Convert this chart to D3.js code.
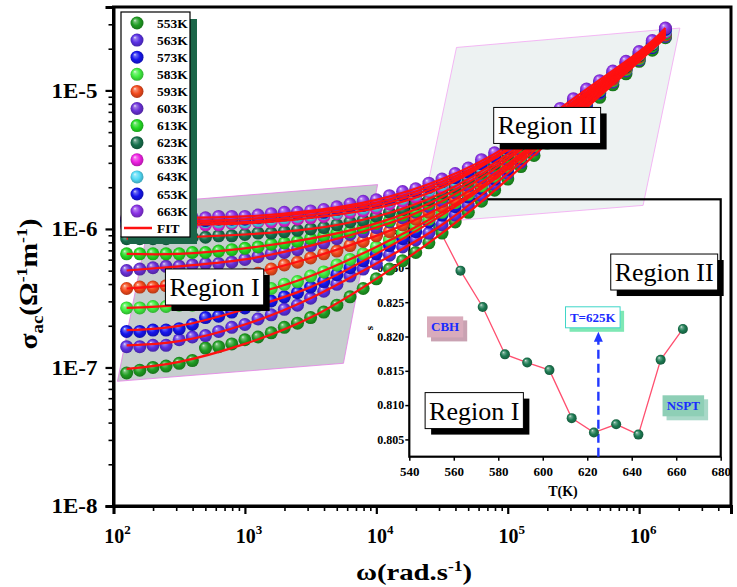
<!DOCTYPE html>
<html><head><meta charset="utf-8">
<script src="https://cdn.jsdelivr.net/npm/d3@7"></script>
<style>body{margin:0;background:#fff} svg{display:block} text{font-family:"Liberation Serif","Times New Roman",serif}</style>
</head><body><svg id="c" width="737" height="587"></svg>
<script>
// ---------------- DATA ----------------
const temps = ["553K","563K","573K","583K","593K","603K","613K","623K","633K","643K","653K","663K"];
const logOmega = [2.1,2.2,2.3,2.4,2.5,2.6,2.7,2.8,2.9,3.0,3.1,3.2,3.3,3.4,3.5,3.6,3.7,3.8,3.9,4.0,4.1,4.2,4.3,4.4,4.5,4.6,4.7,4.8,4.9,5.0,5.1,5.2,5.3,5.4,5.5,5.6,5.7,5.8,5.9,6.0,6.1,6.2];
// log10(sigma_ac) for each temperature
const s553 = [-7.04,-7.02,-7.00,-6.99,-6.97,-6.95,-6.86,-6.85,-6.83,-6.80,-6.78,-6.75,-6.71,-6.68,-6.64,-6.60,-6.55,-6.49,-6.43,-6.36,-6.29,-6.23,-6.17,-6.10,-6.03,-5.95,-5.88,-5.80,-5.72,-5.64,-5.55,-5.47,-5.38,-5.30,-5.21,-5.13,-5.05,-4.96,-4.88,-4.79,-4.71,-4.62];
const s563 = [-6.85,-6.85,-6.84,-6.84,-6.80,-6.78,-6.77,-6.74,-6.71,-6.69,-6.65,-6.62,-6.58,-6.55,-6.50,-6.45,-6.40,-6.34,-6.29,-6.25,-6.19,-6.13,-6.08,-6.03,-5.97,-5.90,-5.83,-5.76,-5.68,-5.60,-5.52,-5.43,-5.35,-5.27,-5.19,-5.11,-5.02,-4.94,-4.86,-4.78,-4.69,-4.61];
const s573 = [-6.74,-6.74,-6.73,-6.73,-6.72,-6.69,-6.64,-6.63,-6.60,-6.57,-6.55,-6.52,-6.49,-6.46,-6.42,-6.38,-6.33,-6.28,-6.23,-6.18,-6.12,-6.07,-6.02,-5.95,-5.90,-5.84,-5.77,-5.71,-5.64,-5.57,-5.49,-5.41,-5.33,-5.25,-5.17,-5.09,-5.01,-4.93,-4.85,-4.77,-4.69,-4.60];
const s583 = [-6.57,-6.57,-6.56,-6.56,-6.55,-6.55,-6.53,-6.52,-6.50,-6.48,-6.46,-6.43,-6.40,-6.38,-6.34,-6.31,-6.26,-6.22,-6.18,-6.13,-6.08,-6.03,-5.98,-5.93,-5.88,-5.81,-5.75,-5.69,-5.62,-5.55,-5.48,-5.40,-5.32,-5.24,-5.16,-5.08,-5.00,-4.93,-4.85,-4.77,-4.68,-4.60];
const s593 = [-6.43,-6.42,-6.42,-6.41,-6.40,-6.40,-6.39,-6.37,-6.35,-6.33,-6.32,-6.29,-6.26,-6.24,-6.21,-6.18,-6.16,-6.12,-6.09,-6.05,-6.02,-5.97,-5.93,-5.88,-5.84,-5.79,-5.73,-5.66,-5.60,-5.53,-5.46,-5.38,-5.31,-5.23,-5.15,-5.07,-4.99,-4.92,-4.84,-4.76,-4.68,-4.60];
const s603 = [-6.30,-6.29,-6.28,-6.27,-6.27,-6.26,-6.25,-6.25,-6.24,-6.22,-6.20,-6.18,-6.17,-6.15,-6.12,-6.10,-6.07,-6.04,-6.02,-5.99,-5.95,-5.92,-5.88,-5.84,-5.80,-5.74,-5.69,-5.63,-5.57,-5.50,-5.43,-5.35,-5.28,-5.20,-5.13,-5.06,-4.98,-4.91,-4.83,-4.75,-4.68,-4.59];
const s613 = [-6.18,-6.18,-6.18,-6.18,-6.18,-6.17,-6.17,-6.16,-6.15,-6.14,-6.13,-6.11,-6.10,-6.09,-6.07,-6.05,-6.03,-6.02,-5.99,-5.96,-5.94,-5.90,-5.87,-5.82,-5.77,-5.72,-5.66,-5.60,-5.54,-5.48,-5.41,-5.34,-5.27,-5.20,-5.13,-5.05,-4.98,-4.90,-4.83,-4.75,-4.68,-4.59];
const s623 = [-6.07,-6.07,-6.07,-6.07,-6.06,-6.06,-6.06,-6.05,-6.05,-6.04,-6.03,-6.03,-6.02,-6.01,-6.00,-5.99,-5.97,-5.95,-5.94,-5.91,-5.88,-5.86,-5.82,-5.79,-5.74,-5.70,-5.65,-5.59,-5.53,-5.46,-5.39,-5.32,-5.25,-5.18,-5.11,-5.04,-4.97,-4.90,-4.83,-4.75,-4.67,-4.58];
const s633 = [-5.98,-5.98,-5.98,-5.98,-5.97,-5.97,-5.97,-5.97,-5.96,-5.96,-5.95,-5.95,-5.94,-5.93,-5.92,-5.91,-5.89,-5.88,-5.87,-5.85,-5.82,-5.80,-5.77,-5.73,-5.70,-5.66,-5.61,-5.56,-5.50,-5.43,-5.37,-5.30,-5.23,-5.17,-5.10,-5.03,-4.96,-4.89,-4.82,-4.74,-4.66,-4.58];
const s643 = [-5.96,-5.96,-5.96,-5.96,-5.95,-5.95,-5.95,-5.95,-5.95,-5.95,-5.94,-5.93,-5.92,-5.91,-5.90,-5.89,-5.88,-5.86,-5.85,-5.83,-5.80,-5.78,-5.75,-5.72,-5.68,-5.65,-5.60,-5.55,-5.49,-5.43,-5.36,-5.29,-5.22,-5.16,-5.09,-5.02,-4.95,-4.88,-4.81,-4.74,-4.66,-4.57];
const s653 = [-5.94,-5.94,-5.94,-5.94,-5.94,-5.94,-5.94,-5.93,-5.93,-5.93,-5.92,-5.91,-5.90,-5.89,-5.88,-5.88,-5.86,-5.84,-5.83,-5.81,-5.79,-5.76,-5.73,-5.70,-5.66,-5.63,-5.59,-5.53,-5.48,-5.42,-5.35,-5.28,-5.21,-5.15,-5.08,-5.01,-4.94,-4.87,-4.80,-4.73,-4.65,-4.56];
const s663 = [-5.92,-5.92,-5.92,-5.92,-5.92,-5.92,-5.92,-5.91,-5.91,-5.91,-5.90,-5.89,-5.88,-5.88,-5.87,-5.86,-5.84,-5.82,-5.80,-5.79,-5.76,-5.73,-5.71,-5.67,-5.64,-5.60,-5.56,-5.50,-5.45,-5.40,-5.34,-5.27,-5.20,-5.13,-5.06,-4.99,-4.93,-4.86,-4.79,-4.72,-4.64,-4.55];
const seriesValues = [s553,s563,s573,s583,s593,s603,s613,s623,s633,s643,s653,s663];

// FIT curves (log10 sigma at these log10 omega)
const fitLogOmega = [2.1,2.5,3.0,3.5,4.0,4.5,5.0,5.5,6.0,6.2];
const fitValues = [
  [-7.01,-6.96,-6.83,-6.64,-6.36,-6.03,-5.64,-5.21,-4.79,-4.62],
  [-6.84,-6.81,-6.69,-6.50,-6.25,-5.97,-5.60,-5.19,-4.78,-4.61],
  [-6.73,-6.70,-6.58,-6.42,-6.18,-5.90,-5.57,-5.17,-4.77,-4.60],
  [-6.57,-6.55,-6.48,-6.34,-6.13,-5.88,-5.55,-5.16,-4.77,-4.60],
  [-6.43,-6.40,-6.33,-6.21,-6.05,-5.84,-5.53,-5.15,-4.76,-4.60],
  [-6.30,-6.27,-6.22,-6.12,-5.99,-5.80,-5.50,-5.13,-4.75,-4.59],
  [-6.18,-6.18,-6.14,-6.07,-5.96,-5.77,-5.48,-5.13,-4.75,-4.59],
  [-6.07,-6.06,-6.04,-6.00,-5.91,-5.74,-5.46,-5.11,-4.75,-4.58],
  [-5.98,-5.97,-5.96,-5.92,-5.85,-5.70,-5.43,-5.10,-4.74,-4.58],
  [-5.96,-5.95,-5.95,-5.90,-5.83,-5.68,-5.43,-5.09,-4.74,-4.57],
  [-5.94,-5.94,-5.93,-5.88,-5.81,-5.66,-5.42,-5.08,-4.73,-4.56],
  [-5.92,-5.92,-5.91,-5.87,-5.79,-5.64,-5.40,-5.06,-4.72,-4.55]
];

// Inset: exponent s vs temperature
const insetT = [553,563,573,583,593,603,613,623,633,643,653,663];
const insetS = [0.8359,0.8296,0.8243,0.8174,0.8162,0.8151,0.8081,0.8060,0.8072,0.8057,0.8166,0.8211];
const insetXTicks = [540,560,580,600,620,640,660,680];
const insetYTicks = [0.805,0.810,0.815,0.820,0.825,0.830,0.835,0.840];
const transitionT = 625, transitionTopS = 0.8207;

// Axis ticks
const xMajor = [1e2,1e3,1e4,1e5,1e6];
const yMajor = [1e-8,1e-7,1e-6,1e-5];

// Region shading (log10 omega, log10 sigma)
const regionIPoly = [[2.30,-5.81],[4.01,-5.68],[3.75,-6.97],[2.03,-7.10]];
const regionIIPoly = [[4.61,-4.69],[6.31,-4.55],[6.03,-5.83],[4.33,-5.96]];

// ---------------- STYLE ----------------
const colors = ["#1f9c22","#5a30e4","#1616ee","#40ee40","#f24a1c","#6a30d6","#24da24","#17704c","#ee20e2","#52daf6","#1414ec","#8a32e6"];
const FONT = '"Liberation Serif","Times New Roman",serif';

const svg = d3.select("#c");
svg.append("rect").attr("width",737).attr("height",587).attr("fill","#fff");
const defs = svg.append("defs");
function sphereGrad(id, c){
  const g = defs.append("radialGradient").attr("id",id)
    .attr("cx","50%").attr("cy","50%").attr("r","55%").attr("fx","33%").attr("fy","28%");
  const mix = d3.interpolateRgb(c,"#ffffff");
  [[0,mix(0.85)],[0.2,mix(0.35)],[0.55,c],[1,d3.color(c).darker(1.0).formatHex()]]
    .forEach(([o,col])=>g.append("stop").attr("offset",o).attr("stop-color",col));
}
colors.forEach((c,i)=>sphereGrad("g"+i,c));
sphereGrad("gin","#1d7a52");

const M = {l:113.5, r:731, t:7, b:506};
const x = d3.scaleLog().domain([1e2,5e6]).range([M.l,M.r]);
const y = d3.scaleLog().domain([1e-8,4e-5]).range([M.b,M.t]);
const px = u => x(Math.pow(10,u)), py = v => y(Math.pow(10,v));

// Regions
function poly(p, fill, stroke){
  svg.append("polygon").attr("points", p.map(d=>px(d[0])+","+py(d[1])).join(" "))
    .attr("fill",fill).attr("stroke",stroke).attr("stroke-width",0.8);
}
poly(regionIIPoly,"#edf2f2","#f2a6f2");
poly(regionIPoly,"#c6cece","#e67ee6");

// Frame
svg.append("rect").attr("x",M.l).attr("y",M.t).attr("width",M.r-M.l).attr("height",M.b-M.t)
  .attr("fill","none").attr("stroke","#000").attr("stroke-width",3);

// Minor ticks
const xMinor=[], yMinor=[];
for(let d=2; d<=6; d++) for(let k=2;k<=9;k++){const v=k*Math.pow(10,d); if(v<=5e6) xMinor.push(v);}
for(let d=-8; d<=-5; d++) for(let k=2;k<=9;k++){const v=k*Math.pow(10,d); if(v<=4e-5) yMinor.push(v);}

const gx = svg.append("g").attr("transform",`translate(0,${M.b})`);
gx.append("g").call(d3.axisBottom(x).tickValues(xMinor).tickSize(5).tickFormat(""))
  .call(g=>{g.select(".domain").remove(); g.selectAll("line").attr("stroke-width",1.6);});
gx.append("g").call(d3.axisBottom(x).tickValues(xMajor).tickSize(8).tickFormat(""))
  .call(g=>{g.select(".domain").attr("stroke-width",3); g.selectAll("line").attr("stroke-width",2.2);});
xMajor.forEach(v=>{
  const t = svg.append("text").attr("x",x(v)+4).attr("y",543).attr("text-anchor","middle")
    .attr("font-size",20).attr("font-weight","bold");
  t.append("tspan").text("10");
  t.append("tspan").attr("dy",-9).attr("font-size",13).text(Math.round(Math.log10(v)));
});

const gy = svg.append("g").attr("transform",`translate(${M.l},0)`);
gy.append("g").call(d3.axisLeft(y).tickValues(yMinor).tickSize(5).tickFormat(""))
  .call(g=>{g.select(".domain").remove(); g.selectAll("line").attr("stroke-width",1.6);});
gy.append("g").call(d3.axisLeft(y).tickValues(yMajor).tickSize(8)
    .tickFormat(d=>"1E"+Math.round(Math.log10(d))))
  .call(g=>{g.select(".domain").attr("stroke-width",3); g.selectAll("line").attr("stroke-width",2.2);
    g.selectAll("text").attr("font-family",FONT).attr("font-weight","bold").attr("font-size",20)
     .attr("fill","#000").attr("x",-16).attr("dy","0.34em")
     .attr("textLength",46).attr("lengthAdjust","spacingAndGlyphs");});

// Axis titles
const yt = svg.append("text").attr("transform","translate(37,284) rotate(-90) scale(1.18,1)")
  .attr("text-anchor","middle").attr("font-size",25).attr("font-weight","bold");
yt.append("tspan").text("σ");
yt.append("tspan").attr("font-size",16).attr("dy",6).text("ac");
yt.append("tspan").attr("dy",-6).text("(Ω");
yt.append("tspan").attr("font-size",15).attr("dy",-10).text("-1");
yt.append("tspan").attr("dy",10).text("m");
yt.append("tspan").attr("font-size",15).attr("dy",-10).text("-1");
yt.append("tspan").attr("dy",10).text(")");

const xt = svg.append("text").attr("transform","translate(414,580) scale(1.25,1)").attr("text-anchor","middle")
  .attr("font-size",23).attr("font-weight","bold");
xt.append("tspan").text("ω(rad.s");
xt.append("tspan").attr("font-size",14).attr("dy",-9).text("-1");
xt.append("tspan").attr("dy",9).text(")");

// ---------------- INSET ----------------
const IX0=409.3, IX1=720.7, IY0=199.3, IY1=456.7;
const ix = d3.scaleLinear().domain([540,680]).range([IX0,IX1]);
const iy = d3.scaleLinear().domain([0.80248,0.840]).range([IY1,IY0]);
const ins = svg.append("g");
ins.append("g").attr("transform",`translate(0,${IY1})`)
  .call(d3.axisBottom(ix).tickValues(insetXTicks).tickSize(4).tickFormat(d3.format("d")))
  .call(g=>{g.select(".domain").remove(); g.selectAll("line").attr("stroke-width",1.5);
    g.selectAll("text").attr("font-family",FONT).attr("font-weight","bold").attr("font-size",13).attr("fill","#000").attr("dy","0.95em");});
ins.append("g").attr("transform",`translate(${IX0},0)`)
  .call(d3.axisLeft(iy).tickValues(insetYTicks).tickSize(4).tickFormat(d3.format(".3f")))
  .call(g=>{g.select(".domain").remove(); g.selectAll("line").attr("stroke-width",1.5);
    g.selectAll("text").attr("font-family",FONT).attr("font-weight","bold").attr("font-size",12).attr("fill","#000").attr("x",-5);});
ins.append("rect").attr("x",IX0).attr("y",IY0).attr("width",IX1-IX0).attr("height",IY1-IY0)
  .attr("fill","none").attr("stroke","#000").attr("stroke-width",2.2);
ins.append("text").attr("transform","translate(373,328) rotate(-90)").attr("text-anchor","middle")
  .attr("font-size",11).attr("font-weight","bold").text("s");
ins.append("text").attr("x",563).attr("y",496).attr("text-anchor","middle")
  .attr("font-size",14).attr("font-weight","bold").text("T(K)");

// transition arrow
ins.append("line").attr("x1",ix(transitionT)).attr("x2",ix(transitionT))
  .attr("y1",IY1).attr("y2",iy(transitionTopS)+9)
  .attr("stroke","#2238ff").attr("stroke-width",2.4).attr("stroke-dasharray","9,5");
ins.append("path").attr("d",`M${ix(transitionT)},${iy(transitionTopS)} l-4.5,10 l9,0 Z`).attr("fill","#2238ff");

ins.append("path").datum(insetT.map((t,i)=>[t,insetS[i]]))
  .attr("d",d3.line().x(d=>ix(d[0])).y(d=>iy(d[1])))
  .attr("fill","none").attr("stroke","#ff4f6f").attr("stroke-width",1.3);
ins.selectAll("circle.pt").data(insetT.map((t,i)=>[t,insetS[i]])).join("circle")
  .attr("cx",d=>ix(d[0])).attr("cy",d=>iy(d[1])).attr("r",5).attr("fill","url(#gin)");

function tagBox(cx, cy, text, fill, shadow, stroke, size){
  const g = svg.append("g");
  const t = g.append("text").attr("x",cx).attr("y",cy+size*0.35).attr("text-anchor","middle")
    .attr("font-size",size).attr("font-weight","bold").attr("fill","#1a2cff").text(text);
  const b = t.node().getBBox();
  const w=b.width+8, h=size+8;
  if(shadow) g.insert("rect","text").attr("x",cx-w/2+4).attr("y",cy-h/2+4).attr("width",w).attr("height",h).attr("fill",shadow);
  g.insert("rect","text").attr("x",cx-w/2).attr("y",cy-h/2).attr("width",w).attr("height",h)
    .attr("fill",fill).attr("stroke",stroke||"none").attr("stroke-width",1);
}
tagBox(ix(622.5), iy(0.8228), "T=625K", "#ffffff", "#7ee8b4", "#3fd6c8", 13);
tagBox(ix(556.1), iy(0.8214), "CBH", "#d9abbb", "#c9a2b2", null, 13);
tagBox(ix(663.2), iy(0.8099), "NSPT", "#8ecfb6", "#a8d8c8", null, 13);

function regionLabel(cx, cy, text){
  const g = svg.append("g");
  const t = g.append("text").attr("x",cx).attr("y",cy+9).attr("text-anchor","middle")
    .attr("font-size",26).attr("fill","#000").text(text);
  const b = t.node().getBBox();
  const w=b.width+8, h=36;
  g.insert("rect","text").attr("x",cx-w/2+6).attr("y",cy-h/2+6).attr("width",w).attr("height",h).attr("fill","#000");
  g.insert("rect","text").attr("x",cx-w/2).attr("y",cy-h/2).attr("width",w).attr("height",h)
    .attr("fill","#fff").attr("stroke","#000").attr("stroke-width",1);
}
regionLabel(ix(654.6), iy(0.8294), "Region II");
regionLabel(ix(569.2), iy(0.8092), "Region I");

// ---------------- MAIN SERIES ----------------
const pts = svg.append("g");
seriesValues.forEach((vals,si)=>{
  pts.append("g").selectAll("circle").data(vals.map((v,i)=>[logOmega[i],v])).join("circle")
    .attr("cx",d=>px(d[0])).attr("cy",d=>py(d[1])).attr("r",6.5).attr("fill",`url(#g${si})`);
});
const fitLine = d3.line().x(d=>px(d[0])).y(d=>py(d[1])).curve(d3.curveNatural);
fitValues.forEach(fv=>{
  svg.append("path").datum(fv.map((v,i)=>[fitLogOmega[i],v])).attr("d",fitLine)
    .attr("fill","none").attr("stroke","#ff1010").attr("stroke-width",2.2);
});

regionLabel(px(2.769), py(-6.419), "Region I");
regionLabel(px(5.30), py(-5.253), "Region II");

// ---------------- LEGEND ----------------
const lg = svg.append("g");
lg.append("rect").attr("x",128).attr("y",19).attr("width",69).attr("height",225).attr("fill","#1b6548");
lg.append("rect").attr("x",121).attr("y",12).attr("width",69).attr("height",225).attr("fill","#fff")
  .attr("stroke","#000").attr("stroke-width",1.2);
temps.forEach((t,i)=>{
  const yy = 23 + 17.1*i;
  lg.append("circle").attr("cx",137).attr("cy",yy).attr("r",6.5).attr("fill",`url(#g${i})`);
  lg.append("text").attr("x",157).attr("y",yy+4.5).attr("font-size",13.5).attr("font-weight","bold").text(t);
});
lg.append("line").attr("x1",124).attr("x2",152).attr("y1",228).attr("y2",228).attr("stroke","#ff1010").attr("stroke-width",2.5);
lg.append("text").attr("x",157).attr("y",232.5).attr("font-size",13.5).attr("font-weight","bold").text("FIT");
</script></body></html>
